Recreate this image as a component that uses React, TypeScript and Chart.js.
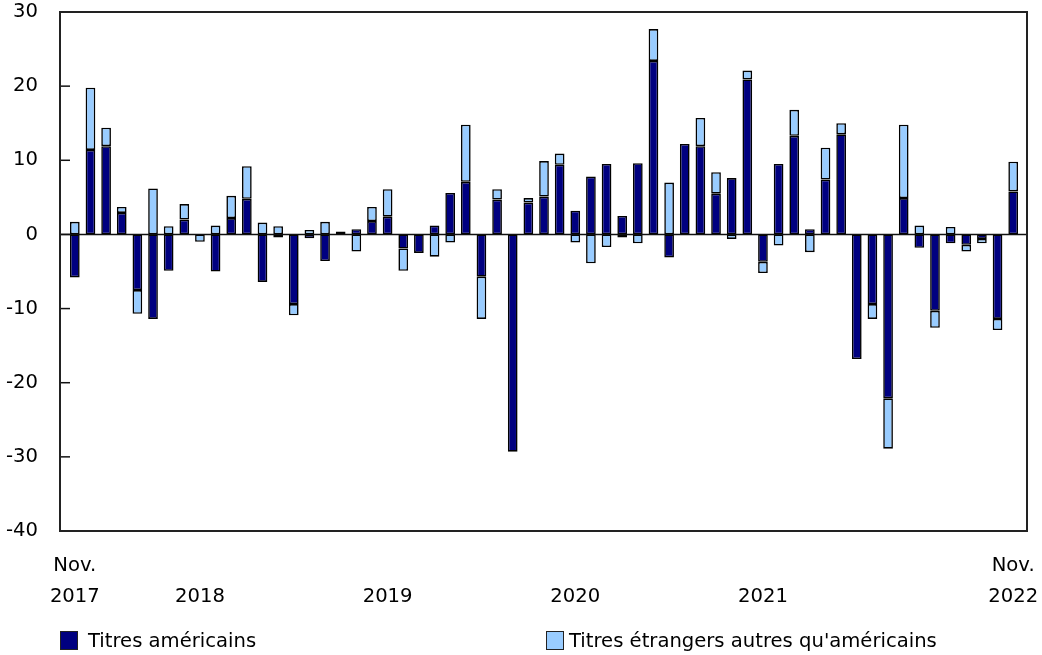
import React, { useEffect, useRef } from "react";
import { Chart, registerables } from "chart.js";

Chart.register(...registerables);

// ---- Data ----
const months: string[] = [
  "2017-11", "2017-12",
  "2018-01", "2018-02", "2018-03", "2018-04", "2018-05", "2018-06", "2018-07", "2018-08", "2018-09", "2018-10", "2018-11", "2018-12",
  "2019-01", "2019-02", "2019-03", "2019-04", "2019-05", "2019-06", "2019-07", "2019-08", "2019-09", "2019-10", "2019-11", "2019-12",
  "2020-01", "2020-02", "2020-03", "2020-04", "2020-05", "2020-06", "2020-07", "2020-08", "2020-09", "2020-10", "2020-11", "2020-12",
  "2021-01", "2021-02", "2021-03", "2021-04", "2021-05", "2021-06", "2021-07", "2021-08", "2021-09", "2021-10", "2021-11", "2021-12",
  "2022-01", "2022-02", "2022-03", "2022-04", "2022-05", "2022-06", "2022-07", "2022-08", "2022-09", "2022-10", "2022-11",
];

const usSecurities: number[] = [
  -5.8, 11.4,
  11.9, 2.9, -7.5, -11.4, -4.9, 2.0, 0, -5.0, 2.2, 4.8, -6.4, -0.4,
  -9.4, -0.5, -3.6, 0.4, 0.7, 1.8, 2.4, -1.9, -2.5, 1.2, 5.6, 7.1,
  -5.7, 4.7, -29.3, 4.3, 5.1, 9.4, 3.2, 7.8, 9.5, 2.5, 9.6, 23.4,
  -3.1, 12.2, 11.9, 5.5, 7.6, 20.9, -3.7, 9.5, 13.3, 0.7, 7.4, 13.5,
  -16.8, -9.4, -22.1, 4.9, -1.8, -10.3, -1.2, -1.4, -0.6, -11.4, 5.8,
];

const otherForeignSecurities: number[] = [
  1.7, 8.4,
  2.5, 0.8, -3.2, 6.2, 1.1, 2.1, -1.0, 1.2, 3.0, 4.4, 1.6, 1.1,
  -1.5, 0.6, 1.7, 0, -2.3, 1.9, 3.7, -3.0, 0, -3.0, -1.1, 7.7,
  -5.7, 1.4, 0, 0.6, 4.8, 1.5, -1.1, -3.9, -1.7, -0.4, -1.2, 4.3,
  7.0, 0, 3.8, 2.9, -0.6, 1.2, -1.5, -1.5, 3.5, -2.4, 4.3, 1.5,
  0, -2.0, -6.8, 9.9, 1.2, -2.3, 1.0, -0.9, -0.6, -1.5, 4.0,
];

const xTickLabels: Record<string, string[]> = {
  "2017-11": ["Nov.", "2017"],
  "2018-07": ["", "2018"],
  "2019-07": ["", "2019"],
  "2020-07": ["", "2020"],
  "2021-07": ["", "2021"],
  "2022-11": ["Nov.", "2022"],
};

const yMin = -40;
const yMax = 30;
const yStep = 10;

const seriesNames = ["Titres américains", "Titres étrangers autres qu'américains"];
const seriesColors = ["#000080", "#99ccff"];

const FONT_FAMILY = "'DejaVu Sans', Verdana, sans-serif";
const FONT_SIZE = 19.6;

export default function App() {
  const canvasRef = useRef<HTMLCanvasElement>(null);

  useEffect(() => {
    const canvas = canvasRef.current;
    if (!canvas) return;

    const framePlugin = {
      id: "framePlugin",
      afterDatasetsDraw(chart: any) {
        const { ctx, chartArea: a, scales } = chart;
        const y = scales.y;
        const L = a.left - 7;
        const R = a.right + 6;
        ctx.save();
        ctx.strokeStyle = "#111";
        ctx.lineWidth = 1.5;
        // zero line
        const z = y.getPixelForValue(0);
        ctx.beginPath();
        ctx.moveTo(L, z);
        ctx.lineTo(R, z);
        ctx.stroke();
        // inner tick marks
        y.ticks.forEach((t: any) => {
          const py = y.getPixelForValue(t.value);
          ctx.beginPath();
          ctx.moveTo(L, py);
          ctx.lineTo(L + 10, py);
          ctx.stroke();
        });
        ctx.lineWidth = 2;
        ctx.strokeStyle = "#222";
        ctx.strokeRect(L, a.top, R - L, a.bottom - a.top);
        ctx.restore();
      },
    };

    const common = {
      borderColor: "#000",
      borderWidth: 1.6,
      borderSkipped: false as const,
      barPercentage: 0.62,
      categoryPercentage: 1,
    };

    const chart = new Chart(canvas, {
      type: "bar",
      data: {
        labels: months,
        datasets: [
          { label: seriesNames[0], data: usSecurities, backgroundColor: seriesColors[0], ...common },
          { label: seriesNames[1], data: otherForeignSecurities, backgroundColor: seriesColors[1], ...common },
        ],
      },
      options: {
        responsive: false,
        animation: false,
        devicePixelRatio: 1,
        layout: { padding: { left: 0, top: 12, right: 21, bottom: 0 } },
        plugins: {
          legend: { display: false },
          tooltip: { enabled: false },
        },
        scales: {
          x: {
            stacked: true,
            offset: true,
            grid: { display: false, drawTicks: false },
            border: { display: false },
            ticks: {
              autoSkip: false,
              maxRotation: 0,
              minRotation: 0,
              padding: 20,
              color: "#000",
              font: { family: FONT_FAMILY, size: FONT_SIZE, lineHeight: 1.55 },
              callback: (_v: any, i: number) => xTickLabels[months[i]] ?? "",
            },
            afterFit: (scale: any) => {
              scale.height = 124;
              scale.paddingLeft = 0;
              scale.paddingRight = 0;
            },
          },
          y: {
            stacked: true,
            min: yMin,
            max: yMax,
            grid: { display: false, drawTicks: false },
            border: { display: false },
            ticks: {
              stepSize: yStep,
              padding: 29,
              color: "#000",
              font: { family: FONT_FAMILY, size: FONT_SIZE },
            },
            afterFit: (scale: any) => {
              scale.width = 67;
              scale.paddingTop = 0;
              scale.paddingBottom = 0;
            },
          },
        },
      },
      plugins: [framePlugin],
    });

    return () => chart.destroy();
  }, []);

  const legendText: React.CSSProperties = {
    position: "absolute",
    top: 627,
    fontFamily: FONT_FAMILY,
    fontSize: FONT_SIZE,
    lineHeight: "28px",
    color: "#000",
    whiteSpace: "nowrap",
  };
  const legendBox: React.CSSProperties = {
    position: "absolute",
    top: 631,
    width: 18,
    height: 19,
    border: "1.5px solid #222",
    boxSizing: "border-box",
  };

  return (
    <div style={{ position: "absolute", left: 0, top: 0, width: 1042, height: 655, background: "#fff" }}>
      <canvas ref={canvasRef} width={1042} height={655} style={{ position: "absolute", left: 0, top: 0 }} />
      <div style={{ ...legendBox, left: 60, background: seriesColors[0] }} />
      <div style={{ ...legendText, left: 88 }}>{seriesNames[0]}</div>
      <div style={{ ...legendBox, left: 546, background: seriesColors[1] }} />
      <div style={{ ...legendText, left: 569 }}>{seriesNames[1]}</div>
    </div>
  );
}
